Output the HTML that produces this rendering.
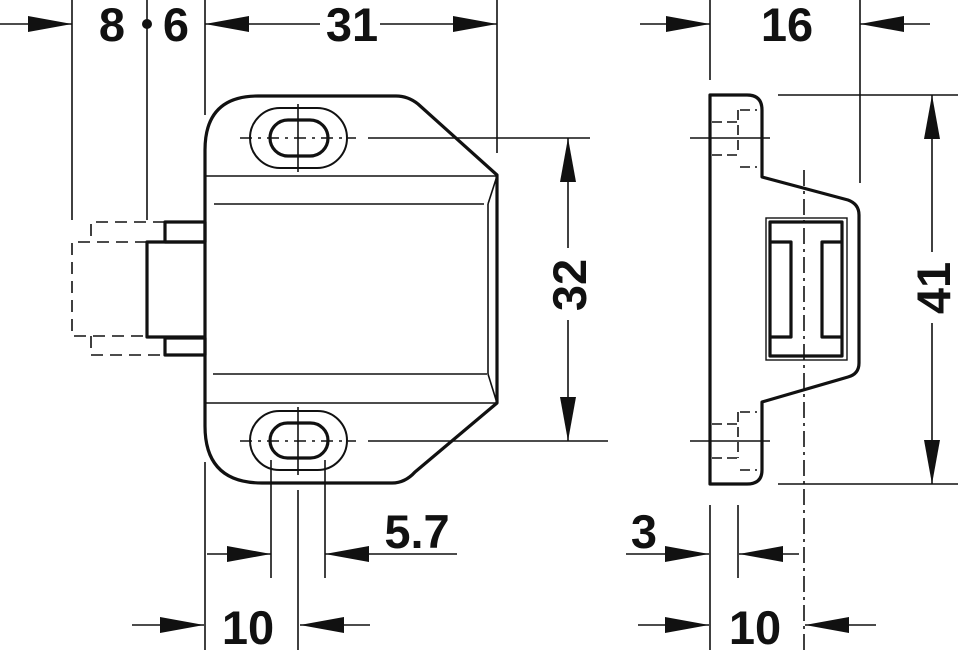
<!DOCTYPE html>
<html><head><meta charset="utf-8"><style>
html,body{margin:0;padding:0;background:#fff;}
svg{display:block;}
text{font-family:"Liberation Sans",Arial,sans-serif;font-weight:bold;font-size:47px;fill:#111;}
</style></head><body>
<svg width="958" height="650" viewBox="0 0 958 650" xmlns="http://www.w3.org/2000/svg">
<defs>
<path id="ar" d="M0,0 L-44,-8 L-44,8 Z" fill="#111"/>
</defs>
<g stroke="#111" fill="none" stroke-width="1.6">
<!-- left view extension lines -->
<line x1="72" y1="0" x2="72" y2="220"/>
<line x1="147" y1="0" x2="147" y2="220"/>
<line x1="205" y1="0" x2="205" y2="115"/>
<line x1="497" y1="0" x2="497" y2="153"/>
<!-- top dim line -->
<line x1="0" y1="24" x2="72" y2="24"/>
<line x1="205" y1="24" x2="320" y2="24"/>
<line x1="380" y1="24" x2="497" y2="24"/>
<!-- body inner lines -->
<line x1="205" y1="176" x2="497" y2="176"/>
<line x1="214" y1="204" x2="484" y2="204"/>
<line x1="488" y1="204" x2="488" y2="374"/>
<line x1="497" y1="176" x2="488" y2="204"/>
<line x1="213" y1="374" x2="487" y2="374"/>
<line x1="205" y1="403" x2="497" y2="403"/>
<line x1="488" y1="374" x2="497" y2="403"/>
<!-- centerlines left -->
<line x1="240" y1="138" x2="356" y2="138" stroke-dasharray="12,6,3,6"/>
<line x1="368" y1="138" x2="590" y2="138"/>
<line x1="298" y1="104" x2="298" y2="172"/>
<line x1="240" y1="441" x2="356" y2="441" stroke-dasharray="12,6,3,6"/>
<line x1="368" y1="441" x2="608" y2="441"/>
<line x1="298" y1="407" x2="298" y2="475"/>
<!-- 32 dim -->
<line x1="568" y1="138" x2="568" y2="248"/>
<line x1="568" y1="320" x2="568" y2="441"/>
<!-- bottom left ext -->
<line x1="205" y1="462" x2="205" y2="650"/>
<line x1="271" y1="460" x2="271" y2="578"/>
<line x1="325" y1="460" x2="325" y2="578"/>
<line x1="298" y1="490" x2="298" y2="650"/>
<line x1="207" y1="554" x2="271" y2="554"/>
<line x1="325" y1="554" x2="457" y2="554"/>
<line x1="132" y1="625" x2="204" y2="625"/>
<line x1="300" y1="625" x2="370" y2="625"/>
<!-- dashed plunger -->
<g stroke-dasharray="12,7">
<polyline points="147,242 72,242 72,336 147,336"/>
<polyline points="165,222 91,222 91,242"/>
<polyline points="91,336 91,355 165,355"/>
</g>
<!-- slots outer thin -->
<rect x="250" y="108" width="97" height="60" rx="30" stroke-width="2"/>
<rect x="250" y="411" width="97" height="59" rx="29.5" stroke-width="2"/>
</g>
<g stroke="#111" fill="none" stroke-width="3.2" stroke-linejoin="round">
<!-- body outline -->
<path d="M205,150 Q205,96 258,96 L396,96 Q408,96 418,104 L497,175 L497,403 L415,472 Q405,483 392,483 L262,483 Q205,483 205,426 Z"/>
<rect x="270" y="120" width="58" height="36" rx="18"/>
<rect x="270" y="423" width="58" height="35" rx="17.5"/>
<!-- plunger -->
<rect x="165" y="222" width="40" height="20"/>
<rect x="165" y="338" width="40" height="17"/>
<polyline points="205,242 147,242 147,337 205,337"/>
</g>
<circle cx="147" cy="24" r="5" fill="#111"/>
<!-- right view -->
<g stroke="#111" fill="none" stroke-width="1.6">
<line x1="710" y1="0" x2="710" y2="80"/>
<line x1="860" y1="0" x2="860" y2="183"/>
<line x1="640" y1="24" x2="710" y2="24"/>
<line x1="860" y1="24" x2="930" y2="24"/>
<line x1="778" y1="95" x2="958" y2="95"/>
<line x1="778" y1="484" x2="958" y2="484"/>
<line x1="932" y1="95" x2="932" y2="252"/>
<line x1="932" y1="323" x2="932" y2="484"/>
<line x1="804" y1="170" x2="804" y2="650" stroke-dasharray="16,5,3,5"/>
<line x1="690" y1="138" x2="770" y2="138"/>
<line x1="690" y1="441" x2="770" y2="441"/>
<line x1="710" y1="505" x2="710" y2="650"/>
<line x1="738" y1="505" x2="738" y2="578"/>
<line x1="626" y1="554" x2="709" y2="554"/>
<line x1="739" y1="554" x2="799" y2="554"/>
<line x1="638" y1="625" x2="709" y2="625"/>
<line x1="805" y1="625" x2="876" y2="625"/>
<rect x="766" y="218" width="81" height="142" stroke-width="1.4"/>
<g stroke-dasharray="10,5" stroke-width="1.6">
<line x1="712" y1="122" x2="738" y2="122"/>
<line x1="712" y1="155" x2="738" y2="155"/>
<line x1="738" y1="110" x2="738" y2="155"/>
<line x1="740" y1="110" x2="757" y2="110"/>
<line x1="740" y1="167" x2="757" y2="167"/>
<line x1="712" y1="424" x2="738" y2="424"/>
<line x1="712" y1="458" x2="738" y2="458"/>
<line x1="738" y1="412" x2="738" y2="458"/>
<line x1="740" y1="412" x2="757" y2="412"/>
<line x1="740" y1="470" x2="757" y2="470"/>
</g>
</g>
<g stroke="#111" fill="none" stroke-width="3.2" stroke-linejoin="round">
<path d="M710,95 L747,95 Q762,95 762,110 L762,177 L848,200 Q859,204 859,215 L859,363 Q859,374 848,377 L762,402 L762,470 Q762,484 747,484 L710,484 Z"/>
<rect x="770" y="222" width="72" height="134"/>
<polyline points="770,242 791,242 791,337 770,337"/>
<polyline points="842,242 822,242 822,337 842,337"/>
</g>
<!-- arrowheads -->
<use href="#ar" transform="translate(72,24)"/>
<use href="#ar" transform="translate(205,24) rotate(180)"/>
<use href="#ar" transform="translate(497,24)"/>
<use href="#ar" transform="translate(568,138) rotate(-90)"/>
<use href="#ar" transform="translate(568,441) rotate(90)"/>
<use href="#ar" transform="translate(271,554)"/>
<use href="#ar" transform="translate(325,554) rotate(180)"/>
<use href="#ar" transform="translate(204,625)"/>
<use href="#ar" transform="translate(300,625) rotate(180)"/>
<use href="#ar" transform="translate(710,24)"/>
<use href="#ar" transform="translate(860,24) rotate(180)"/>
<use href="#ar" transform="translate(932,95) rotate(-90)"/>
<use href="#ar" transform="translate(932,484) rotate(90)"/>
<use href="#ar" transform="translate(709,554)"/>
<use href="#ar" transform="translate(739,554) rotate(180)"/>
<use href="#ar" transform="translate(709,625)"/>
<use href="#ar" transform="translate(805,625) rotate(180)"/>
<!-- labels -->
<text x="112" y="41" text-anchor="middle">8</text>
<text x="176" y="41" text-anchor="middle">6</text>
<text x="352" y="41" text-anchor="middle">31</text>
<text x="787" y="41" text-anchor="middle">16</text>
<text transform="translate(586,285) rotate(-90)" text-anchor="middle">32</text>
<text transform="translate(950,288) rotate(-90)" text-anchor="middle">41</text>
<text x="417" y="548" text-anchor="middle">5.7</text>
<text x="248" y="644" text-anchor="middle">10</text>
<text x="644" y="548" text-anchor="middle">3</text>
<text x="755" y="644" text-anchor="middle">10</text>
</svg>
</body></html>
